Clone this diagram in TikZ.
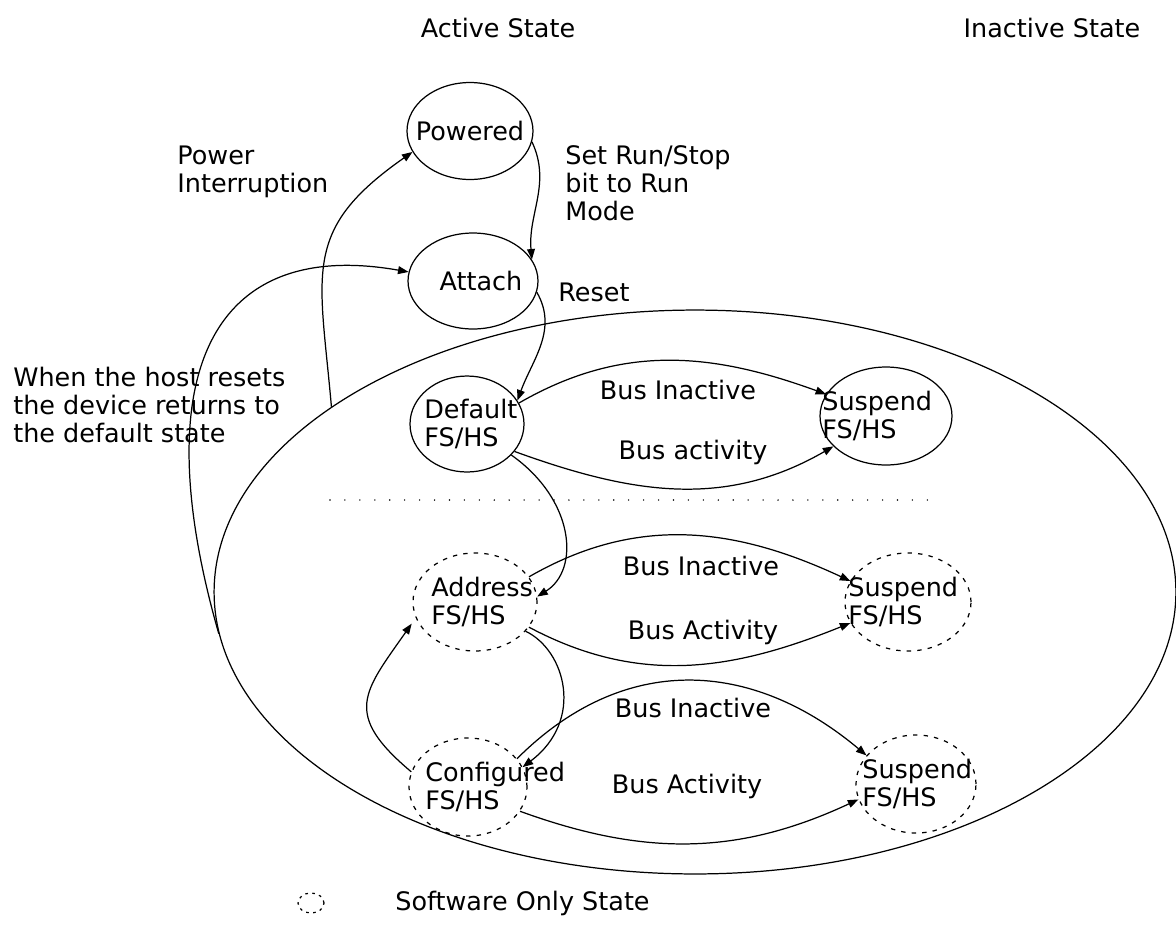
\documentclass[tikz,border=0pt]{standalone}
\usepackage{fontspec}
\setmainfont{DejaVu Sans}
\usetikzlibrary{arrows.meta,shapes.geometric}
\tikzset{
  state/.style={ellipse, draw, line width=0.7pt, inner sep=0pt,
    minimum width=2.5cm, minimum height=1.94cm},
  swstate/.style={state, dash pattern=on 2.5pt off 3.5pt},
  region/.style={ellipse, draw, line width=0.7pt, inner sep=0pt},
  lbl/.style={inner sep=0pt, align=left, font=\fontsize{14.5}{16}\selectfont},
  flow/.style={-{Triangle[length=6pt,width=4.5pt]}, line width=0.7pt},
  sep/.style={line width=0.9pt, line cap=round, dash pattern=on 0pt off 8.5pt}
}

\begin{document}
\begin{tikzpicture}[x=0.02cm, y=-0.02cm]
\useasboundingbox (0,0) rectangle (1176,934);

% headings
\node[lbl] (act) at (498,28) {Active State};
\node[lbl] (inact) at (1052,28) {Inactive State};

% the big region
\node[region, minimum width=19.24cm, minimum height=11.28cm] (big) at (695,592) {};

% states
\node[state, minimum width=2.52cm] (pow) at (470,131) {};
\node[state, minimum width=2.6cm, minimum height=1.92cm] (att) at (473,281) {};
\node[state, minimum width=2.28cm, minimum height=1.92cm] (def) at (467,424) {};
\node[state, minimum width=2.64cm, minimum height=1.96cm] (sus1) at (886,416) {};
\node[swstate, minimum width=2.48cm, minimum height=1.96cm] (adr) at (475,602) {};
\node[swstate, minimum width=2.52cm, minimum height=1.96cm] (sus2) at (908,602) {};
\node[swstate, minimum width=2.36cm, minimum height=1.96cm] (conf) at (468,787) {};
\node[swstate, minimum width=2.4cm, minimum height=1.96cm] (sus3) at (916,784) {};

% state names
\node[lbl] (powt) at (470,131) {Powered};
\node[lbl] (attt) at (481,281) {Attach};
\node[lbl, anchor=west] (deft) at (424,424) {Default\\FS/HS};
\node[lbl, anchor=west] (sus1t) at (822,416) {Suspend\\FS/HS};
\node[lbl, anchor=west] (adrt) at (431,602) {Address\\FS/HS};
\node[lbl, anchor=west] (sus2t) at (848,602) {Suspend\\FS/HS};
\node[lbl, anchor=west] (conft) at (425,787) {Configured\\FS/HS};
\node[lbl, anchor=west] (sus3t) at (862,784) {Suspend\\FS/HS};

% notes
\node[lbl, anchor=west] (pwrnote) at (177,172) {Power\\Interruption};
\node[lbl, anchor=west] (runnote) at (565,183) {Set Run/Stop\\bit to Run\\Mode};
\node[lbl, anchor=west] (rstnote) at (558,292) {Reset};
\node[lbl, anchor=west] (hostnote) at (13,405) {When the host resets\\the device returns to\\the default state};

% bus labels
\node[lbl] (bi1) at (678,390) {Bus Inactive};
\node[lbl] (ba1) at (693,452) {Bus activity};
\node[lbl] (bi2) at (701,566) {Bus Inactive};
\node[lbl] (ba2) at (703,632) {Bus Activity};
\node[lbl] (bi3) at (693,708) {Bus Inactive};
\node[lbl] (ba3) at (687,786) {Bus Activity};

% separator between hardware and software states
\draw[sep] (330,500) -- (940,500);

% transitions
\draw[flow] (pow.-10) to[out=-65,in=95] (att.20);
\draw[flow] (att.-10) to[out=-60,in=70] (def.25);
\draw[flow] (big.153) to[out=95,in=215,looseness=1.3] (pow.200);
\draw[flow] (big.185) to[out=106,in=170,out distance=5.4cm,in distance=4cm] (att.172);

\draw[flow] (def.22) to[out=30,in=160] (sus1.160);
\draw[flow] (def.-30) to[out=-20,in=-150] (sus1.-150);
\draw[flow] (def.-35) .. controls (575,500) and (580,570) .. (adr.5);

\draw[flow] (adr.25) to[out=30,in=155] (sus2.160);
\draw[flow] (adr.-25) to[out=-28,in=-158] (sus2.-160);
\draw[flow] (adr.-30) .. controls (565,650) and (585,720) .. (conf.20);
\draw[flow, shorten >=4pt] (conf.165) to[out=140,in=235,looseness=1.5] (adr.195);

\draw[flow] (conf.30) to[out=45,in=140,looseness=1.1] (sus3.150);
\draw[flow] (conf.-25) to[out=-20,in=-155] (sus3.-165);

% legend
\node[swstate, minimum width=0.52cm, minimum height=0.4cm,
  dash pattern=on 1.5pt off 2.5pt] (key) at (311,903) {};
\node[lbl, anchor=west] (keyt) at (395,903) {Software Only State};
\end{tikzpicture}
\end{document}
